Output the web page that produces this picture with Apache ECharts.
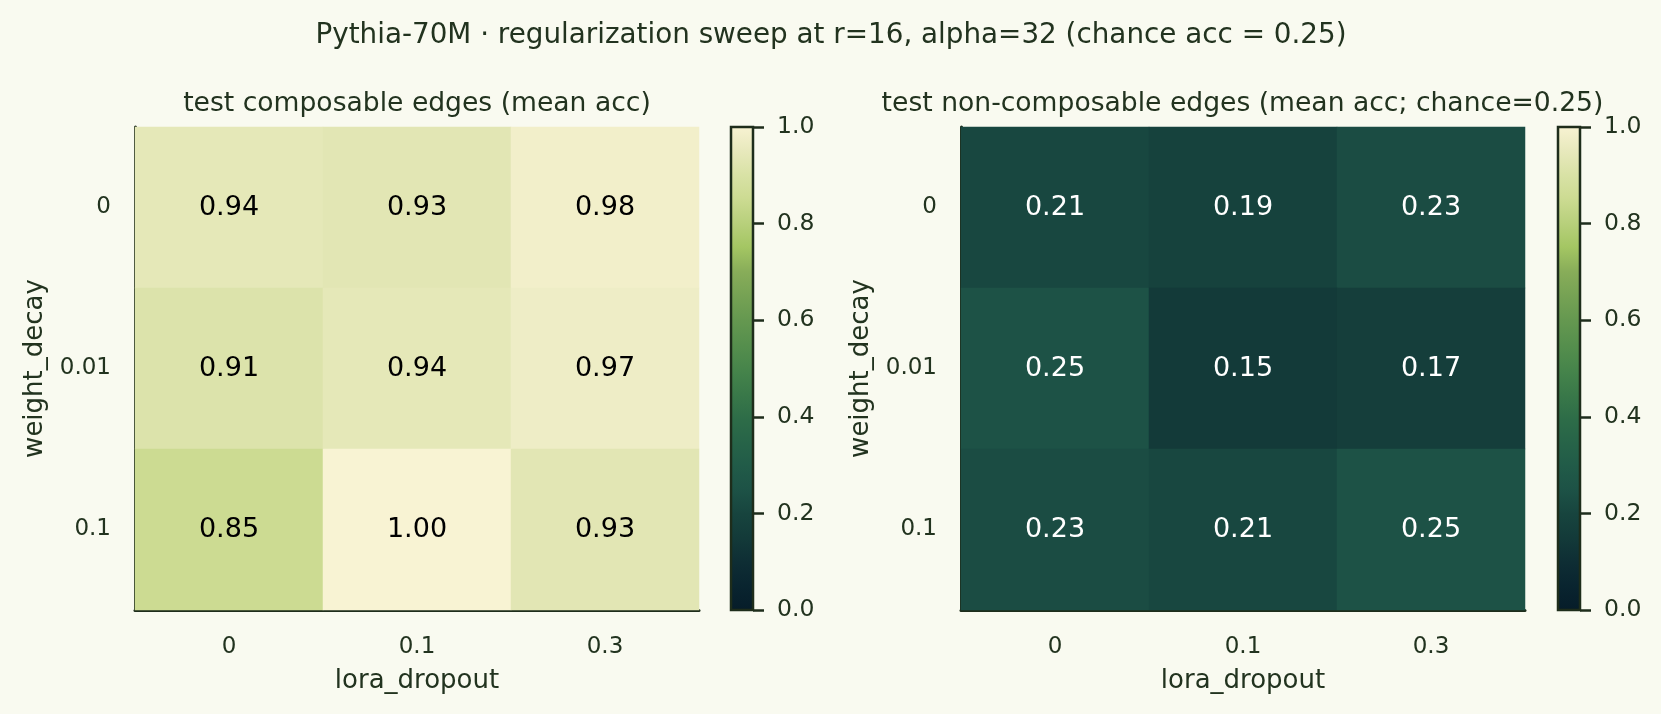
<!DOCTYPE html>
<html>
<head>
<meta charset="utf-8">
<script src="https://cdn.jsdelivr.net/npm/echarts@6/dist/echarts.min.js"></script>
<style>
  html, body { margin: 0; padding: 0; background: #f9faf0; }
  #chart { width: 1661px; height: 714px; }
</style>
</head>
<body>
<div id="chart"></div>
<script>
// categories
const dropouts = ['0', '0.1', '0.3']      // x: lora_dropout
const decays = ['0', '0.01', '0.1']       // y: weight_decay (top -> bottom)

// rows = weight_decay, cols = lora_dropout
const composableAcc = [
  [0.94, 0.93, 0.98],
  [0.91, 0.94, 0.97],
  [0.85, 1.00, 0.93]
]
const nonComposableAcc = [
  [0.21, 0.19, 0.23],
  [0.25, 0.15, 0.17],
  [0.23, 0.21, 0.25]
]

// colour map, evenly spaced from 0 to 1
const cmap = [
  '#061c29', '#09242f', '#0e2d34', '#133a39', '#17443e', '#1d5246', '#215b48',
  '#276448', '#2e6d48', '#3a7949', '#47854b', '#568f4d', '#659850', '#76a254',
  '#88ad59', '#a4c663', '#b8d07c', '#ccdb92', '#d9e2a6', '#e8e9bd', '#f8f3d3'
]

const ink = '#22331f'
const spine = '#1e2d1b'
const font = 'DejaVu Sans'

// heatmap triples [x, y, value] from the row tables
const toCells = (table) => {
  const out = []
  table.forEach((row, yi) => {
    row.forEach((v, xi) => {
      out.push({
        value: [xi, yi, v],
        label: { color: v > 0.5 ? '#000000' : '#ffffff' }
      })
    })
  })
  return out
}

const gradient = new echarts.graphic.LinearGradient(0, 1, 0, 0,
  cmap.map((c, i) => ({ offset: i / (cmap.length - 1), color: c })))

const heatX = (gi) => ({
  type: 'category',
  gridIndex: gi,
  data: dropouts,
  position: 'bottom',
  name: 'lora_dropout',
  nameLocation: 'middle',
  nameGap: 58,
  nameTextStyle: { color: ink, fontSize: 26, fontFamily: font },
  axisLine: { show: true, lineStyle: { color: spine, width: 3 } },
  axisTick: { show: false },
  axisLabel: { color: ink, fontSize: 23, margin: 26, fontFamily: font },
  splitLine: { show: false },
  splitArea: { show: false }
})

const heatY = (gi) => ({
  type: 'category',
  gridIndex: gi,
  data: decays,
  inverse: true,
  name: 'weight_decay',
  nameLocation: 'middle',
  nameGap: 87,
  nameTextStyle: { color: ink, fontSize: 26, fontFamily: font },
  axisLine: { show: true, lineStyle: { color: spine, width: 3 } },
  axisTick: { show: false },
  axisLabel: { color: ink, fontSize: 23, margin: 24, fontFamily: font },
  splitLine: { show: false },
  splitArea: { show: false }
})

const cbarX = (gi) => ({
  type: 'value', gridIndex: gi, min: 0, max: 1, show: false
})

const cbarY = (gi) => ({
  type: 'value',
  gridIndex: gi,
  min: 0,
  max: 1,
  interval: 0.2,
  position: 'right',
  axisLine: { show: false, onZero: false },
  axisTick: { show: true, inside: false, length: 11, lineStyle: { color: spine, width: 2.5 } },
  axisLabel: {
    color: ink, fontSize: 23.5, margin: 24, fontFamily: font,
    formatter: (v) => v.toFixed(1)
  },
  splitLine: { show: false }
})

const heatSeries = (gi, table) => ({
  type: 'heatmap',
  xAxisIndex: gi,
  yAxisIndex: gi,
  data: toCells(table),
  label: {
    show: true,
    fontSize: 27,
    fontFamily: font,
    formatter: (p) => p.value[2].toFixed(2)
  },
  itemStyle: { borderWidth: 0 },
  emphasis: { disabled: true }
})

const chart = echarts.init(document.getElementById('chart'))
chart.setOption({
  backgroundColor: '#f9faf0',
  animation: false,
  textStyle: { fontFamily: font },
  title: [
    {
      text: 'Pythia-70M · regularization sweep at r=16, alpha=32 (chance acc = 0.25)',
      left: 831, top: 22, textAlign: 'center', padding: 0,
      textStyle: { color: ink, fontSize: 27.8, fontWeight: 'normal', fontFamily: font }
    },
    {
      text: 'test composable edges (mean acc)',
      left: 417, top: 91, textAlign: 'center', padding: 0,
      textStyle: { color: ink, fontSize: 26.6, fontWeight: 'normal', fontFamily: font }
    },
    {
      text: 'test non-composable edges (mean acc; chance=0.25)',
      left: 1242.5, top: 91, textAlign: 'center', padding: 0,
      textStyle: { color: ink, fontSize: 26.6, fontWeight: 'normal', fontFamily: font }
    }
  ],
  grid: [
    { left: 135, top: 127, width: 564, height: 483 },
    {
      left: 731, top: 127, width: 22, height: 483, show: true,
      backgroundColor: gradient, borderColor: spine, borderWidth: 2.5
    },
    { left: 961, top: 127, width: 564, height: 483 },
    {
      left: 1558, top: 127, width: 22, height: 483, show: true,
      backgroundColor: gradient, borderColor: spine, borderWidth: 2.5
    }
  ],
  xAxis: [heatX(0), cbarX(1), heatX(2), cbarX(3)],
  yAxis: [heatY(0), cbarY(1), heatY(2), cbarY(3)],
  visualMap: {
    type: 'continuous',
    show: false,
    min: 0,
    max: 1,
    dimension: 2,
    seriesIndex: [0, 1],
    inRange: { color: cmap }
  },
  series: [
    heatSeries(0, composableAcc),
    heatSeries(2, nonComposableAcc)
  ]
})
</script>
</body>
</html>
